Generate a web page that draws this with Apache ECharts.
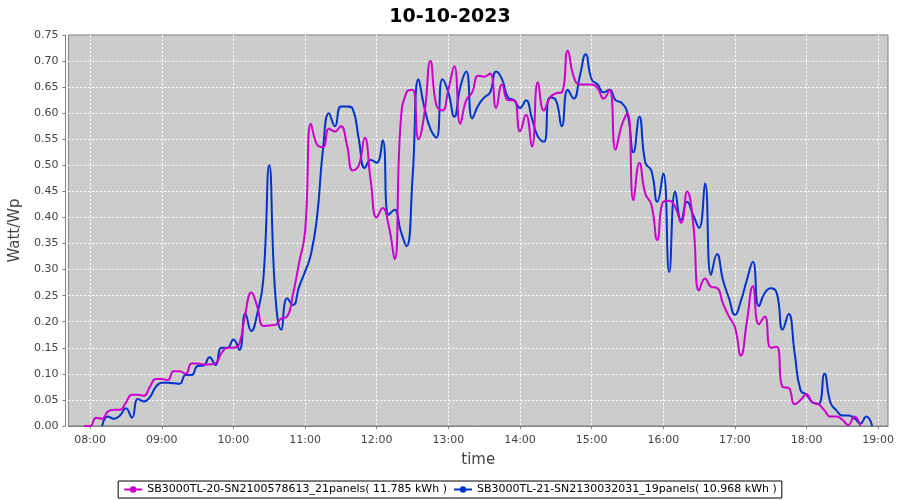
<!DOCTYPE html>
<html><head><meta charset="utf-8">
<script src="https://cdn.jsdelivr.net/npm/echarts@6/dist/echarts.min.js"></script>
<style>html,body{margin:0;padding:0;background:#fff}#c{width:900px;height:500px}</style>
</head><body><div id="c"></div>
<script>
const chartTitle = "10-10-2023";
const xName = "time";
const yName = "Watt/Wp";
const seriesNames = [
  "SB3000TL-20-SN2100578613_21panels( 11.785 kWh )",
  "SB3000TL-21-SN2130032031_19panels( 10.968 kWh )"
];
const axisStart = "07:41:48";
const axisEnd = "19:08:12";
const times = [
"07:55","08:00","08:05","08:10","08:15","08:20","08:25","08:30","08:35","08:40","08:45","08:50","08:55",
"09:00","09:05","09:10","09:15","09:20","09:25","09:30","09:35","09:40","09:45","09:50","09:55",
"10:00","10:05","10:10","10:15","10:20","10:25","10:30","10:35","10:40","10:45","10:50","10:55",
"11:00","11:05","11:10","11:15","11:20","11:25","11:30","11:35","11:40","11:45","11:50","11:55",
"12:00","12:05","12:10","12:15","12:20","12:25","12:30","12:35","12:40","12:45","12:50","12:55",
"13:00","13:05","13:10","13:15","13:20","13:25","13:30","13:35","13:40","13:45","13:50","13:55",
"14:00","14:05","14:10","14:15","14:20","14:25","14:30","14:35","14:40","14:45","14:50","14:55",
"15:00","15:05","15:10","15:15","15:20","15:25","15:30","15:35","15:40","15:45","15:50","15:55",
"16:00","16:05","16:10","16:15","16:20","16:25","16:30","16:35","16:40","16:45","16:50","16:55",
"17:00","17:05","17:10","17:15","17:20","17:25","17:30","17:35","17:40","17:45","17:50","17:55",
"18:00","18:05","18:10","18:15","18:20","18:25","18:30","18:35","18:40","18:45","18:50","18:55"
];
// SB3000TL-20 (magenta)
const sb20 = [
0.0,0.0,0.016,0.014,0.028,0.031,0.031,0.045,0.06,0.06,0.058,0.075,0.09,
0.09,0.088,0.105,0.105,0.1,0.12,0.12,0.118,0.118,0.12,0.14,0.15,
0.15,0.158,0.216,0.256,0.229,0.192,0.193,0.194,0.206,0.21,0.254,0.313,
0.373,0.58,0.54,0.535,0.57,0.565,0.575,0.54,0.49,0.5,0.553,0.47,
0.4,0.418,0.385,0.32,0.58,0.64,0.645,0.55,0.6,0.70,0.615,0.605,
0.645,0.69,0.58,0.625,0.64,0.672,0.67,0.676,0.61,0.655,0.625,0.625,
0.565,0.597,0.536,0.66,0.605,0.63,0.638,0.64,0.72,0.67,0.655,0.655,
0.655,0.648,0.628,0.645,0.53,0.575,0.6,0.433,0.505,0.445,0.425,0.357,
0.43,0.432,0.42,0.39,0.45,0.39,0.26,0.283,0.267,0.265,0.235,0.21,
0.19,0.135,0.2,0.268,0.195,0.21,0.15,0.152,0.075,0.073,0.042,0.05,
0.061,0.045,0.042,0.03,0.018,0.018,0.012,0.002,0.018,0.0,null,null
];
// SB3000TL-21 (blue)
const sb21 = [
null,null,null,0.0,0.018,0.014,0.02,0.034,0.016,0.052,0.047,0.055,0.075,
0.083,0.083,0.082,0.081,0.098,0.098,0.115,0.116,0.132,0.117,0.15,0.15,
0.166,0.146,0.216,0.182,0.216,0.28,0.50,0.255,0.185,0.245,0.232,0.267,
0.296,0.33,0.40,0.53,0.6,0.575,0.613,0.613,0.608,0.55,0.495,0.51,
0.505,0.548,0.405,0.415,0.375,0.345,0.475,0.665,0.61,0.57,0.553,0.665,
0.64,0.593,0.65,0.68,0.59,0.615,0.63,0.64,0.68,0.665,0.63,0.625,
0.61,0.625,0.59,0.555,0.545,0.63,0.625,0.575,0.645,0.628,0.67,0.713,
0.665,0.655,0.64,0.645,0.625,0.62,0.6,0.525,0.593,0.505,0.49,0.43,
0.485,0.295,0.45,0.395,0.43,0.405,0.38,0.465,0.29,0.33,0.28,0.245,
0.213,0.24,0.28,0.315,0.23,0.255,0.264,0.255,0.185,0.215,0.14,0.068,
0.06,0.045,0.042,0.1,0.045,0.03,0.02,0.02,0.015,0.005,0.018,0.0
];
const yMin = 0, yMax = 0.75, yStep = 0.05;

function toTs(s){ const p=s.split(':').map(Number); return new Date(2023,9,10,p[0],p[1],p[2]||0).getTime(); }
function pad(n){ return (n<10?'0':'')+n; }
function pairs(vals){ return times.map((t,i)=>[toTs(t), vals[i]]); }

const font = "DejaVu Sans";
const chart = echarts.init(document.getElementById('c'), null, {renderer:'canvas'});
chart.setOption({
  animation:false,
  backgroundColor:'#ffffff',
  title:{text:chartTitle,left:'center',top:3,textStyle:{fontFamily:font,fontSize:19,fontWeight:'bold',color:'#000'}},
  grid:{left:68,right:12,top:35,bottom:74,show:true,backgroundColor:'#cccccc',borderColor:'#808080',borderWidth:1},
  legend:{bottom:2,left:'center',orient:'horizontal',borderColor:'#000',borderWidth:1,padding:[3,5,3,5],itemGap:6,itemWidth:18,itemHeight:8,
    textStyle:{fontFamily:font,fontSize:11,color:'#000'},data:seriesNames},
  xAxis:{type:'time',min:toTs(axisStart),max:toTs(axisEnd),minInterval:3600000,maxInterval:3600000,offset:4,
    name:xName,nameLocation:'middle',nameGap:23,nameTextStyle:{fontFamily:font,fontSize:15,color:'#444'},
    axisLine:{show:true,lineStyle:{color:'#808080'}},
    axisTick:{show:true,length:3,lineStyle:{color:'#808080'}},
    axisLabel:{fontFamily:font,fontSize:11,color:'#444',margin:5,showMinLabel:false,showMaxLabel:false,
      formatter:function(v){const d=new Date(v);return pad(d.getHours())+':'+pad(d.getMinutes());}},
    splitLine:{show:true,showMinLine:false,showMaxLine:false,lineStyle:{color:'#ffffff',type:[2,2],width:1}}},
  yAxis:{type:'value',min:yMin,max:yMax,interval:yStep,offset:3,
    name:yName,nameLocation:'middle',nameGap:37,nameTextStyle:{fontFamily:font,fontSize:15,color:'#444'},
    axisLine:{show:true,lineStyle:{color:'#808080'}},
    axisTick:{show:true,length:3,lineStyle:{color:'#808080'}},
    axisLabel:{fontFamily:font,fontSize:11,color:'#444',margin:7,formatter:v=>v.toFixed(2)},
    splitLine:{show:true,showMinLine:false,showMaxLine:false,lineStyle:{color:'#ffffff',type:[2,2],width:1}}},
  series:[
    {name:seriesNames[0],type:'line',data:pairs(sb20),smooth:0.5,showSymbol:false,symbol:'circle',z:3,
      itemStyle:{color:'#cc00cc'},lineStyle:{color:'#cc00cc',width:2}},
    {name:seriesNames[1],type:'line',data:pairs(sb21),smooth:0.5,showSymbol:false,symbol:'circle',z:2,
      itemStyle:{color:'#0033cc'},lineStyle:{color:'#0033cc',width:2}}
  ]
});
</script></body></html>
